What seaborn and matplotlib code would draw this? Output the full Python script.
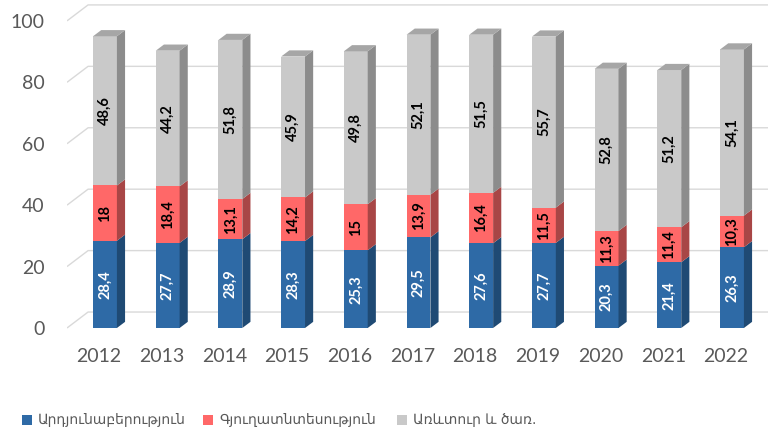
import matplotlib
matplotlib.use("Agg")
import matplotlib.pyplot as plt
from matplotlib.patches import Polygon, Rectangle
from matplotlib.transforms import ScaledTranslation
import seaborn as sns
import pandas as pd
import numpy as np

# Data
years = ["2012", "2013", "2014", "2015", "2016", "2017", "2018", "2019", "2020", "2021", "2022"]
industry = [28.4, 27.7, 28.9, 28.3, 25.3, 29.5, 27.6, 27.7, 20.3, 21.4, 26.3]
agriculture = [18, 18.4, 13.1, 14.2, 15, 13.9, 16.4, 11.5, 11.3, 11.4, 10.3]
trade = [48.6, 44.2, 51.8, 45.9, 49.8, 52.1, 51.5, 55.7, 52.8, 51.2, 54.1]
series_names = ["Արդյունաբերություն", "Գյուղատնտեսություն", "Առևտուր և ծառ."]

front = ["#2e6aa6", "#ff6868", "#c9c9c9"]
side = ["#1f4a74", "#a84646", "#8c8c8c"]
top_col = "#a6a6a6"
text_col = "#595959"

sns.set_theme(style="white")
plt.rcParams["font.family"] = ["Lato", "DejaVu Sans"]

df = pd.DataFrame({"year": years, "ind": industry, "agr": agriculture, "trd": trade})
df["c1"] = df["ind"]
df["c2"] = df["ind"] + df["agr"]
df["c3"] = df["c2"] + df["trd"]

fig = plt.figure(figsize=(7.68, 4.36), dpi=100)
ax = fig.add_axes([67 / 768, 101 / 436, 701 / 768, 335 / 436])

bw = 0.38
# stacked via overlaid cumulative bars (top layer first)
for col, c in zip(["c3", "c2", "c1"], front[::-1]):
    sns.barplot(data=df, x="year", y=col, color=c, width=bw, saturation=1,
                ax=ax, zorder=3, edgecolor="none", linewidth=0)

ax.set_xlim(-0.606, 10.574)
ax.set_ylim(-2.28, 106.8)

# 3D depth (in data units)
dx, dy = 0.13, 2.0
segments = [np.zeros(len(years)), df["c1"].values, df["c2"].values, df["c3"].values]
for i in range(len(years)):
    xr = i + bw / 2
    xl = i - bw / 2
    for k in range(3):
        b, t = segments[k][i], segments[k + 1][i]
        ax.add_patch(Polygon([(xr, b), (xr + dx, b + dy), (xr + dx, t + dy), (xr, t)],
                             closed=True, facecolor=side[k], edgecolor="none", zorder=3))
    t = segments[3][i]
    ax.add_patch(Polygon([(xl, t), (xl + dx, t + dy), (xr + dx, t + dy), (xr, t)],
                         closed=True, facecolor=top_col, edgecolor="none", zorder=3))

# value labels
vals = [industry, agriculture, trade]
for k in range(3):
    for i in range(len(years)):
        mid = (segments[k][i] + segments[k + 1][i]) / 2
        s = f"{vals[k][i]:g}".replace(".", ",")
        ax.text(i, mid, s, rotation=90, ha="center", va="center", fontsize=10.5,
                fontweight="bold", color="white" if k == 0 else "black", zorder=5)

# back wall grid lines with slanted left edge
for v in range(0, 101, 20):
    ax.plot([-0.606, -0.27, 10.574], [v, v + 5.2, v + 5.2], color="#d9d9d9",
            lw=1.0, zorder=1, solid_capstyle="butt")

for s in ax.spines.values():
    s.set_visible(False)
ax.set_xlabel("")
ax.set_ylabel("")
ax.set_yticks(range(0, 101, 20))
ax.tick_params(axis="y", length=0, pad=16, labelsize=14, labelcolor=text_col)
ax.tick_params(axis="x", length=0, pad=9, labelsize=14, labelcolor=text_col)
ax.grid(False)
# category labels sit on the front plane, slightly left of the bars
for lab in ax.get_xticklabels():
    lab.set_transform(lab.get_transform() + ScaledTranslation(-6 / 100, 0, fig.dpi_scale_trans))

# legend
leg_y = 1 - 420 / 436
for name, c, xs in zip(series_names, front, [22, 203, 397]):
    fig.patches.append(Rectangle((xs / 768, leg_y - 5 / 436), 10 / 768, 10 / 436,
                                 transform=fig.transFigure, facecolor=c,
                                 edgecolor="none", figure=fig))
    fig.text((xs + 16) / 768, leg_y, name, fontsize=10, color=text_col,
             va="center", ha="left", family=["DejaVu Sans"])

fig.savefig("out.png", dpi=100)
